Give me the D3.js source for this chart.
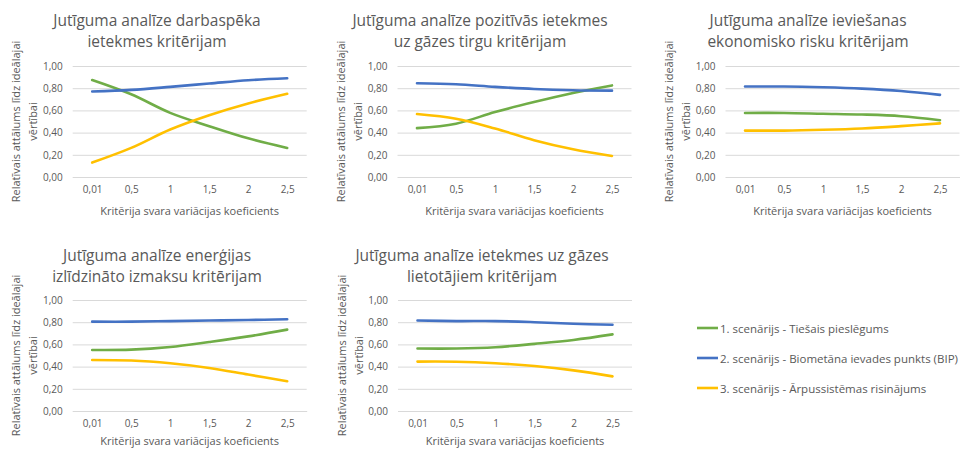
<!DOCTYPE html>
<html>
<head>
<meta charset="utf-8">
<script src="https://cdn.jsdelivr.net/npm/d3@7"></script>
<style>
  html, body { margin: 0; padding: 0; background: #fff; }
  svg { display: block; font-family: "Open Sans", "Noto Sans", sans-serif; }
</style>
</head>
<body>
<svg id="chart" width="960" height="449"></svg>
<script>
// Criterion weight variation coefficients (x categories)
const categories = ["0,01", "0,5", "1", "1,5", "2", "2,5"];
const yTicks = [0, 0.2, 0.4, 0.6, 0.8, 1.0];

const scenarioNames = [
  "1. scenārijs - Tiešais pieslēgums",
  "2. scenārijs - Biometāna ievades punkts (BIP)",
  "3. scenārijs - Ārpussistēmas risinājums"
];
const scenarioColors = ["#70AD47", "#4472C4", "#FFC000"];

// Labour impact criterion
const darbaspeksS1 = [0.874, 0.745, 0.578, 0.458, 0.348, 0.262];
const darbaspeksS2 = [0.770, 0.785, 0.812, 0.842, 0.872, 0.890];
const darbaspeksS3 = [0.130, 0.262, 0.428, 0.557, 0.663, 0.750];

// Positive impact on the gas market criterion
const tirgusS1 = [0.440, 0.480, 0.585, 0.675, 0.757, 0.825];
const tirgusS2 = [0.845, 0.835, 0.812, 0.793, 0.782, 0.778];
const tirgusS3 = [0.567, 0.525, 0.437, 0.332, 0.250, 0.190];

// Implementation economic risk criterion
const riskaS1 = [0.577, 0.577, 0.570, 0.563, 0.548, 0.512];
const riskaS2 = [0.815, 0.815, 0.808, 0.796, 0.775, 0.740];
const riskaS3 = [0.418, 0.418, 0.425, 0.437, 0.458, 0.483];

// Levelised cost of energy criterion
const izmaksuS1 = [0.550, 0.553, 0.577, 0.622, 0.672, 0.733];
const izmaksuS2 = [0.805, 0.805, 0.810, 0.815, 0.820, 0.826];
const izmaksuS3 = [0.460, 0.455, 0.430, 0.388, 0.328, 0.268];

// Impact on gas users criterion
const lietotajuS1 = [0.563, 0.563, 0.575, 0.605, 0.640, 0.690];
const lietotajuS2 = [0.815, 0.810, 0.810, 0.800, 0.786, 0.777];
const lietotajuS3 = [0.445, 0.444, 0.430, 0.405, 0.366, 0.312];

const yTitleLines = ["Relatīvais attālums līdz ideālajai", "vērtībai"];
const xTitle = "Kritērija svara variācijas koeficients";

const panels = [
  { title: ["Jutīguma analīze darbaspēka", "ietekmes kritērijam"],
    series: [darbaspeksS1, darbaspeksS2, darbaspeksS3],
    x0: 72.7, x1: 306.7, y0: 66, y1: 177, tx: 157, ty: 20, xt: 33 },
  { title: ["Jutīguma analīze pozitīvās ietekmes", "uz gāzes tirgu kritērijam"],
    series: [tirgusS1, tirgusS2, tirgusS3],
    x0: 397.5, x1: 631.5, y0: 66, y1: 177, tx: 480, ty: 20, xt: 33 },
  { title: ["Jutīguma analīze ieviešanas", "ekonomisko risku kritērijam"],
    series: [riskaS1, riskaS2, riskaS3],
    x0: 725.5, x1: 959.5, y0: 66, y1: 177, tx: 808, ty: 20, xt: 33 },
  { title: ["Jutīguma analīze enerģijas", "izlīdzināto izmaksu kritērijam"],
    series: [izmaksuS1, izmaksuS2, izmaksuS3],
    x0: 72.7, x1: 306.7, y0: 300, y1: 411, tx: 157, ty: 255, xt: 29.5 },
  { title: ["Jutīguma analīze ietekmes uz gāzes", "lietotājiem kritērijam"],
    series: [lietotajuS1, lietotajuS2, lietotajuS3],
    x0: 398, x1: 632, y0: 300, y1: 411, tx: 482, ty: 255, xt: 29.5 }
];

const svg = d3.select("#chart");
const textColor = "#595959";
const fmt = v => d3.format(".2f")(v).replace(".", ",");

panels.forEach(p => {
  const g = svg.append("g");
  const x = d3.scalePoint().domain(categories).range([p.x0, p.x1]).padding(0.5);
  const y = d3.scaleLinear().domain([0, 1]).range([p.y1, p.y0]);

  // Title (two lines)
  g.append("text")
    .attr("x", p.tx).attr("y", p.ty)
    .attr("text-anchor", "middle")
    .attr("dominant-baseline", "central")
    .attr("fill", textColor)
    .style("font-size", "15.5px")
    .selectAll("tspan").data(p.title).join("tspan")
    .attr("x", p.tx)
    .attr("dy", (d, i) => i === 0 ? 0 : 20.5)
    .text(d => d);

  // Horizontal gridlines with value labels
  const yAxis = d3.axisLeft(y).tickValues(yTicks).tickFormat(fmt)
    .tickSize(-(p.x1 - p.x0)).tickPadding(10);
  const ya = g.append("g").attr("transform", `translate(${p.x0},0)`).call(yAxis);
  ya.select(".domain").remove();
  ya.selectAll(".tick line").attr("stroke", "#D9D9D9").attr("stroke-width", 1);
  ya.selectAll(".tick text").attr("fill", textColor)
    .style("font-size", "10px").style("font-family", "'Open Sans', sans-serif");

  // Category axis
  const xAxis = d3.axisBottom(x).tickSize(0).tickPadding(9);
  const xa = g.append("g").attr("transform", `translate(0,${p.y1})`).call(xAxis);
  xa.select(".domain").attr("stroke", "#D9D9D9");
  xa.selectAll(".tick text").attr("fill", textColor)
    .style("font-size", "10px").style("font-family", "'Open Sans', sans-serif");

  // Axis titles
  g.append("text")
    .attr("x", (p.x0 + p.x1) / 2).attr("y", p.y1 + p.xt)
    .attr("text-anchor", "middle").attr("dominant-baseline", "central")
    .attr("fill", textColor).style("font-size", "11px")
    .text(xTitle);

  const cy = (p.y0 + p.y1) / 2;
  yTitleLines.forEach((t, i) => {
    const cx = p.x0 - 57 + i * 17;
    g.append("text")
      .attr("transform", `translate(${cx},${cy}) rotate(-90)`)
      .attr("text-anchor", "middle").attr("dominant-baseline", "central")
      .attr("fill", textColor).style("font-size", "11px")
      .text(t);
  });

  // Smoothed scenario lines
  const line = d3.line()
    .x((d, i) => x(categories[i]))
    .y(d => y(d))
    .curve(d3.curveCatmullRom.alpha(0.5));
  p.series.forEach((s, k) => {
    g.append("path")
      .datum(s)
      .attr("d", line)
      .attr("fill", "none")
      .attr("stroke", scenarioColors[k])
      .attr("stroke-width", 2.6)
      .attr("stroke-linecap", "round");
  });
});

// Legend
const legendX = 697, legendY = [328, 358, 388];
const lg = svg.append("g");
scenarioNames.forEach((name, i) => {
  lg.append("line")
    .attr("x1", legendX).attr("x2", legendX + 21)
    .attr("y1", legendY[i]).attr("y2", legendY[i])
    .attr("stroke", scenarioColors[i]).attr("stroke-width", 2.6);
  lg.append("text")
    .attr("x", legendX + 23).attr("y", legendY[i])
    .attr("dominant-baseline", "central")
    .attr("fill", textColor).style("font-size", "11.5px")
    .text(name);
});
</script>
</body>
</html>
